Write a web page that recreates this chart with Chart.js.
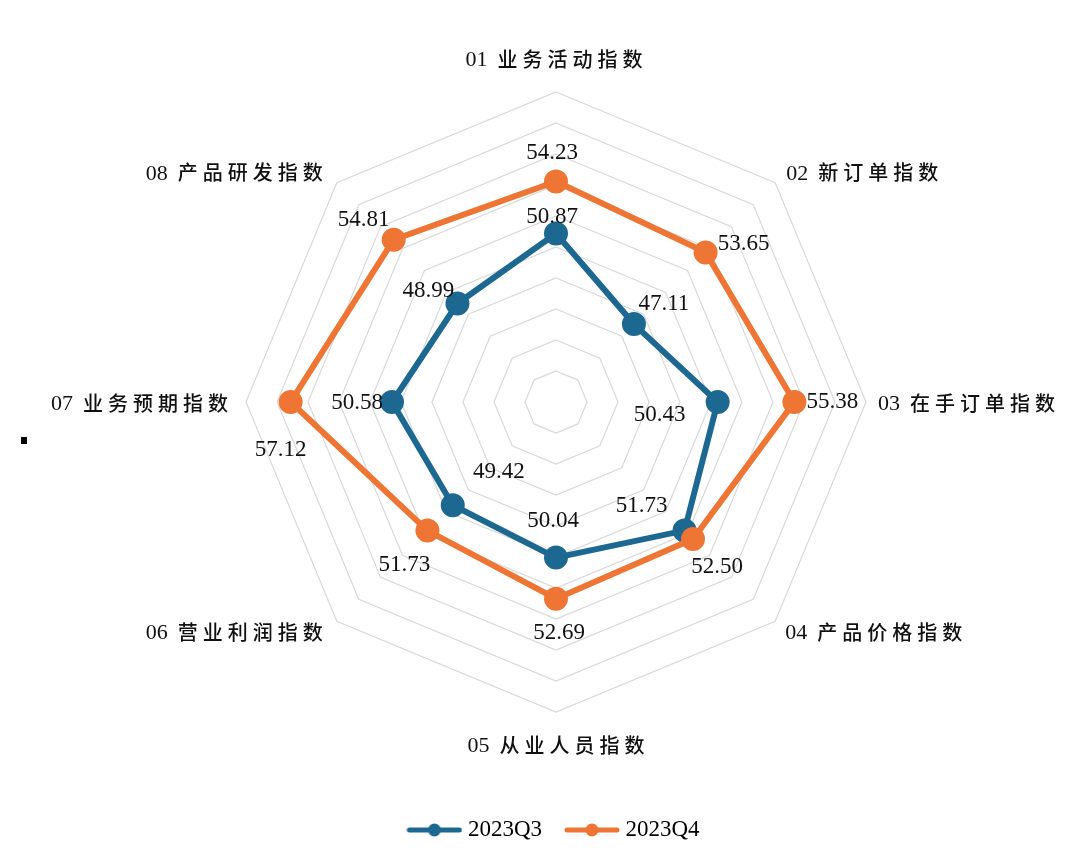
<!DOCTYPE html>
<html>
<head>
<meta charset="utf-8">
<script src="https://cdn.jsdelivr.net/npm/chart.js@4.4.0/dist/chart.umd.min.js"></script>
<style>
  html, body { margin: 0; padding: 0; background: #fff; }
</style>
</head>
<body>
<canvas id="chart" width="1080" height="865"></canvas>
<script>
// Dados do gráfico
const categorias = ['01 业务活动指数', '02 新订单指数', '03 在手订单指数', '04 产品价格指数', '05 从业人员指数', '06 营业利润指数', '07 业务预期指数', '08 产品研发指数'];
const series = ['2023Q3', '2023Q4'];
const valoresQ3 = [50.87, 47.11, 50.43, 51.73, 50.04, 49.42, 50.58, 48.99];
const valoresQ4 = [54.23, 53.65, 55.38, 52.50, 52.69, 51.73, 57.12, 54.81];
const escalaMin = 40;
const escalaMax = 60;
const escalaPasso = 2;

const corQ3 = '#1c6890';
const corQ4 = '#ee7534';

// Deslocamento dos rótulos dos eixos a partir do vértice externo [dx, dy, alinhamento]
const posEixos = [
  [-2, -33, 'center'],
  [11, -10, 'left'],
  [12, 1, 'left'],
  [10, 11, 'left'],
  [0, 33, 'center'],
  [-14, 11, 'right'],
  [-18, 1, 'right'],
  [-14, -10, 'right']
];

// Deslocamento dos rótulos de valor a partir de cada ponto [dx, dy]
const posValoresQ3 = [[-4, -17], [30, -20], [-58, 13], [-43, -25], [-3, -37], [46, -33], [-35, 1], [-29, -13]];
const posValoresQ4 = [[-4, -28], [38, -8], [38, 0], [24, 28], [3, 34], [-23, 34], [-10, 48], [-30, -20]];

// Marcador da legenda: linha com círculo
const criarMarcador = (cor) => {
  const c = document.createElement('canvas');
  c.width = 56;
  c.height = 16;
  const g = c.getContext('2d');
  g.strokeStyle = cor;
  g.lineWidth = 5;
  g.lineCap = 'round';
  g.beginPath();
  g.moveTo(3, 8);
  g.lineTo(53, 8);
  g.stroke();
  g.fillStyle = cor;
  g.beginPath();
  g.arc(28, 8, 6.5, 0, Math.PI * 2);
  g.fill();
  return c;
};
const marcadores = [criarMarcador(corQ3), criarMarcador(corQ4)];

// Rótulos dos eixos e dos valores
const fonteNumero = '22px "Liberation Serif", serif';
const fonteNome = '500 20px "Noto Sans CJK SC", sans-serif';
const espacoLetras = 5;
const espacoNumero = 10;

const rotulosPlugin = {
  id: 'rotulos',
  afterDatasetsDraw(chart) {
    const { ctx } = chart;
    const r = chart.scales.r;
    ctx.save();
    ctx.fillStyle = '#111';
    ctx.textBaseline = 'middle';
    ctx.textAlign = 'left';

    categorias.forEach((nome, i) => {
      const p = r.getPointPosition(i, r.drawingArea);
      const [dx, dy, alinhamento] = posEixos[i];
      const partes = nome.split(' ');
      const numero = partes[0];
      const texto = partes.slice(1).join(' ');

      ctx.letterSpacing = '0px';
      ctx.font = fonteNumero;
      const largNumero = ctx.measureText(numero).width;
      ctx.font = fonteNome;
      const largTexto = ctx.measureText(texto).width + espacoLetras * (texto.length - 1);
      const total = largNumero + espacoNumero + largTexto;

      let x = p.x + dx;
      if (alinhamento === 'center') x -= total / 2;
      if (alinhamento === 'right') x -= total;
      const y = p.y + dy;

      ctx.font = fonteNumero;
      ctx.fillText(numero, x, y + 1);
      ctx.font = fonteNome;
      ctx.letterSpacing = espacoLetras + 'px';
      ctx.fillText(texto, x + largNumero + espacoNumero, y);
    });

    ctx.letterSpacing = '0px';
    ctx.font = '23px "Liberation Serif", serif';
    ctx.textAlign = 'center';
    [posValoresQ3, posValoresQ4].forEach((offsets, d) => {
      const meta = chart.getDatasetMeta(d);
      meta.data.forEach((ponto, i) => {
        const valor = chart.data.datasets[d].data[i];
        ctx.fillText(valor.toFixed(2), ponto.x + offsets[i][0], ponto.y + offsets[i][1]);
      });
    });

    // pequeno quadrado preto à esquerda
    ctx.fillStyle = '#000';
    ctx.fillRect(21, 437, 6, 7);
    ctx.restore();
  }
};

const ctx = document.getElementById('chart').getContext('2d');
const chart = new Chart(ctx, {
  type: 'radar',
  data: {
    labels: categorias,
    datasets: [
      {
        label: series[0],
        data: valoresQ3,
        borderColor: corQ3,
        backgroundColor: corQ3,
        pointBackgroundColor: corQ3,
        pointBorderColor: corQ3,
        borderWidth: 6,
        pointRadius: 9,
        pointHoverRadius: 9,
        fill: false,
        order: 1
      },
      {
        label: series[1],
        data: valoresQ4,
        borderColor: corQ4,
        backgroundColor: corQ4,
        pointBackgroundColor: corQ4,
        pointBorderColor: corQ4,
        borderWidth: 6,
        pointRadius: 9,
        pointHoverRadius: 9,
        fill: false,
        order: 0
      }
    ]
  },
  options: {
    responsive: false,
    animation: false,
    devicePixelRatio: 1,
    layout: {
      padding: { top: 92, left: 32, right: 0, bottom: 13.5 }
    },
    scales: {
      r: {
        min: escalaMin,
        max: escalaMax,
        ticks: { display: false, stepSize: escalaPasso },
        grid: { color: '#d9d9d9', lineWidth: 1.2 },
        angleLines: { display: false },
        pointLabels: { display: false }
      }
    },
    plugins: {
      tooltip: { enabled: false },
      legend: {
        position: 'bottom',
        title: {
          display: true,
          text: '',
          font: { size: 10, lineHeight: 1 },
          padding: { top: 0, bottom: 68.5 }
        },
        labels: {
          usePointStyle: true,
          pointStyleWidth: 44,
          padding: 28,
          color: '#000',
          font: { family: '"Liberation Serif", serif', size: 23 },
          sort: (a, b) => a.datasetIndex - b.datasetIndex,
          generateLabels: (chart) => {
            const itens = Chart.defaults.plugins.legend.labels.generateLabels(chart);
            return itens.map(item => ({ ...item, pointStyle: marcadores[item.datasetIndex] }));
          }
        }
      }
    }
  },
  plugins: [rotulosPlugin]
});
</script>
</body>
</html>
